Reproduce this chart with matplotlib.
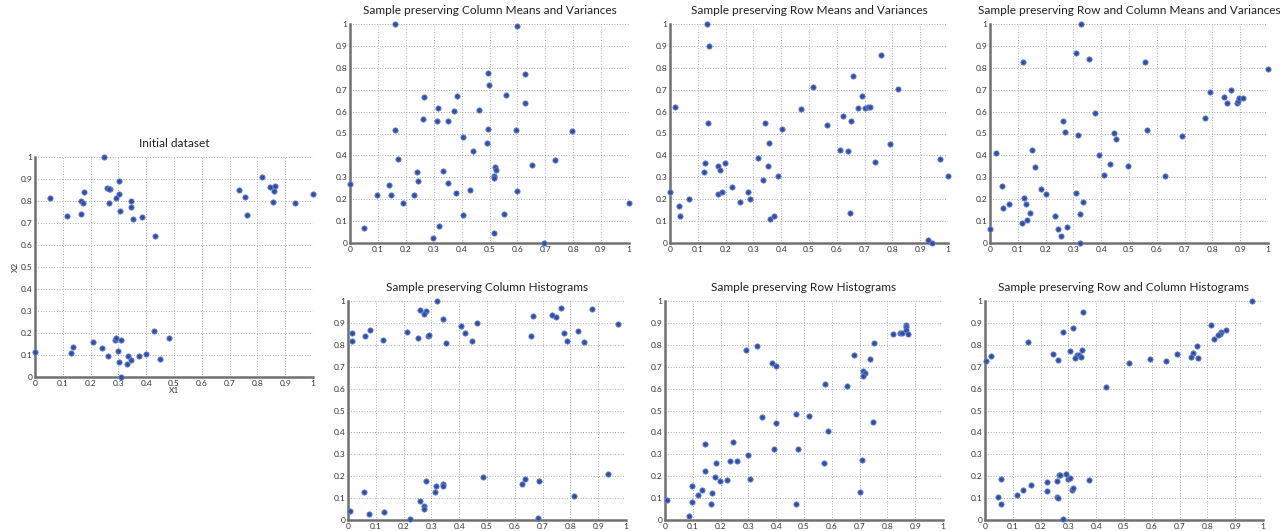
import matplotlib

matplotlib.use("Agg")
import matplotlib.pyplot as plt
import numpy as np

# Исходные данные (чтение с картинки)
init_x1 = [0.249, 0.055, 0.115, 0.165, 0.173, 0.177, 0.167, 0.259, 0.271, 0.265,
           0.267, 0.290, 0.302, 0.302, 0.305, 0.347, 0.345, 0.353, 0.384, 0.432,
           0.735, 0.755, 0.763, 0.817, 0.847, 0.865, 0.859, 0.855, 0.937, 1.0,
           0.0, 0.129, 0.138, 0.207, 0.240, 0.261, 0.287, 0.293, 0.309, 0.300,
           0.303, 0.309, 0.331, 0.333, 0.344, 0.374, 0.400, 0.429, 0.450, 0.482]
init_x2 = [1.0, 0.813, 0.733, 0.802, 0.793, 0.839, 0.739, 0.859, 0.854, 0.855,
           0.793, 0.812, 0.889, 0.834, 0.755, 0.801, 0.771, 0.717, 0.728, 0.641,
           0.851, 0.819, 0.736, 0.910, 0.863, 0.869, 0.847, 0.796, 0.792, 0.831,
           0.112, 0.109, 0.138, 0.157, 0.134, 0.094, 0.170, 0.179, 0.166, 0.119,
           0.067, 0.0, 0.059, 0.096, 0.078, 0.094, 0.103, 0.211, 0.084, 0.179]

# Column Means and Variances
colmv_x = [0.161, 0.598, 0.496, 0.626, 0.498, 0.559, 0.265, 0.382, 0.626, 0.315,
           0.373, 0.462, 0.260, 0.311, 0.353, 0.162, 0.496, 0.595, 0.795, 0.404,
           0.492, 0.440, 0.171, 0.652, 0.733, 0.520, 0.525, 0.239, 0.332, 0.516,
           0.515, 0.0, 0.139, 0.243, 0.353, 0.098, 0.146, 0.230, 0.380, 0.430,
           0.597, 0.191, 1.0, 0.406, 0.551, 0.049, 0.318, 0.297, 0.517, 0.694]
colmv_y = [1.0, 0.989, 0.776, 0.773, 0.720, 0.676, 0.665, 0.673, 0.638, 0.618,
           0.601, 0.606, 0.565, 0.556, 0.557, 0.516, 0.522, 0.517, 0.511, 0.486,
           0.458, 0.419, 0.385, 0.357, 0.377, 0.345, 0.333, 0.326, 0.329, 0.307,
           0.299, 0.268, 0.265, 0.283, 0.272, 0.219, 0.221, 0.221, 0.228, 0.244,
           0.236, 0.184, 0.182, 0.128, 0.134, 0.067, 0.076, 0.023, 0.044, 0.0]

# Row Means and Variances
rowmv_x = [0.133, 0.142, 0.019, 0.137, 0.0, 0.032, 0.037, 0.068, 0.126, 0.122,
           0.172, 0.181, 0.198, 0.173, 0.186, 0.223, 0.251, 0.281, 0.287, 0.316,
           0.336, 0.343, 0.353, 0.357, 0.388, 0.361, 0.373, 0.402, 0.473, 0.513,
           0.565, 0.611, 0.623, 0.641, 0.651, 0.648, 0.657, 0.676, 0.691, 0.702,
           0.713, 0.718, 0.738, 0.759, 0.791, 0.819, 0.928, 0.942, 0.970, 1.0]
rowmv_y = [1.0, 0.898, 0.619, 0.548, 0.231, 0.170, 0.122, 0.201, 0.365, 0.326,
           0.350, 0.332, 0.364, 0.225, 0.231, 0.257, 0.189, 0.231, 0.199, 0.387,
           0.288, 0.546, 0.352, 0.457, 0.304, 0.110, 0.122, 0.519, 0.613, 0.711,
           0.537, 0.426, 0.580, 0.419, 0.556, 0.139, 0.763, 0.615, 0.671, 0.615,
           0.619, 0.623, 0.370, 0.860, 0.451, 0.703, 0.014, 0.0, 0.384, 0.307]

# Row and Column Means and Variances
rcmv_x = [0.328, 0.311, 0.355, 0.118, 0.556, 1.0, 0.866, 0.790, 0.842, 0.851,
          0.887, 0.891, 0.896, 0.909, 0.773, 0.378, 0.262, 0.271, 0.318, 0.445,
          0.455, 0.564, 0.689, 0.022, 0.152, 0.161, 0.393, 0.431, 0.495, 0.409,
          0.630, 0.042, 0.046, 0.070, 0.185, 0.202, 0.124, 0.131, 0.143, 0.132,
          0.114, 0.0, 0.233, 0.244, 0.254, 0.277, 0.310, 0.333, 0.325, 0.322]
rcmv_y = [1.0, 0.869, 0.841, 0.826, 0.825, 0.793, 0.700, 0.689, 0.667, 0.641,
          0.641, 0.650, 0.661, 0.661, 0.571, 0.595, 0.556, 0.505, 0.493, 0.504,
          0.475, 0.514, 0.489, 0.411, 0.425, 0.346, 0.403, 0.359, 0.350, 0.311,
          0.306, 0.260, 0.158, 0.178, 0.248, 0.222, 0.206, 0.180, 0.139, 0.104,
          0.091, 0.062, 0.123, 0.065, 0.032, 0.072, 0.230, 0.189, 0.134, 0.0]

# Column Histograms
colh_x = [0.321, 0.258, 0.281, 0.275, 0.343, 0.463, 0.406, 0.421, 0.287, 0.293,
          0.251, 0.212, 0.351, 0.445, 0.014, 0.016, 0.061, 0.078, 0.125, 0.664,
          0.659, 0.733, 0.767, 0.749, 0.777, 0.786, 0.827, 0.849, 0.876, 0.972,
          0.007, 0.059, 0.076, 0.130, 0.224, 0.258, 0.274, 0.273, 0.279, 0.316,
          0.313, 0.341, 0.341, 0.486, 0.625, 0.637, 0.688, 0.683, 0.812, 0.934]
colh_y = [1.0, 0.959, 0.954, 0.939, 0.916, 0.901, 0.887, 0.855, 0.838, 0.846,
          0.832, 0.860, 0.808, 0.817, 0.852, 0.817, 0.838, 0.866, 0.823, 0.930,
          0.840, 0.934, 0.966, 0.925, 0.852, 0.817, 0.864, 0.814, 0.962, 0.896,
          0.040, 0.127, 0.027, 0.037, 0.003, 0.087, 0.062, 0.052, 0.178, 0.154,
          0.130, 0.166, 0.157, 0.198, 0.163, 0.189, 0.178, 0.011, 0.111, 0.210]

# Row Histograms
rowh_x = [0.820, 0.844, 0.851, 0.866, 0.867, 0.868, 0.873, 0.753, 0.681, 0.739,
          0.714, 0.718, 0.712, 0.574, 0.654, 0.293, 0.330, 0.385, 0.401, 0.349,
          0.471, 0.517, 0.401, 0.749, 0.588, 0.393, 0.480, 0.246, 0.145, 0.298,
          0.234, 0.260, 0.185, 0.571, 0.707, 0.145, 0.181, 0.198, 0.223, 0.306,
          0.097, 0.134, 0.119, 0.168, 0.008, 0.098, 0.166, 0.703, 0.473, 0.086]
rowh_y = [0.851, 0.855, 0.855, 0.892, 0.879, 0.867, 0.851, 0.809, 0.754, 0.735,
          0.680, 0.671, 0.659, 0.622, 0.610, 0.774, 0.793, 0.715, 0.701, 0.471,
          0.482, 0.477, 0.444, 0.447, 0.405, 0.325, 0.322, 0.355, 0.345, 0.297,
          0.271, 0.268, 0.261, 0.258, 0.276, 0.224, 0.195, 0.180, 0.183, 0.186,
          0.154, 0.136, 0.116, 0.123, 0.091, 0.082, 0.072, 0.130, 0.072, 0.017]

# Row and Column Histograms
rch_x = [0.960, 0.814, 0.868, 0.849, 0.844, 0.839, 0.825, 0.761, 0.690, 0.747,
         0.742, 0.767, 0.592, 0.651, 0.519, 0.436, 0.352, 0.317, 0.279, 0.155,
         0.245, 0.263, 0.306, 0.350, 0.332, 0.339, 0.325, 0.346, 0.020, 0.004,
         0.056, 0.048, 0.058, 0.114, 0.137, 0.164, 0.223, 0.224, 0.258, 0.259,
         0.267, 0.270, 0.291, 0.297, 0.304, 0.313, 0.318, 0.373, 0.280, 0.262]
rch_y = [1.0, 0.890, 0.867, 0.857, 0.851, 0.845, 0.825, 0.793, 0.759, 0.761,
         0.745, 0.742, 0.733, 0.724, 0.718, 0.608, 0.948, 0.878, 0.857, 0.811,
         0.758, 0.732, 0.771, 0.776, 0.755, 0.752, 0.741, 0.745, 0.748, 0.724,
         0.189, 0.105, 0.073, 0.114, 0.136, 0.162, 0.174, 0.134, 0.178, 0.105,
         0.207, 0.206, 0.212, 0.188, 0.192, 0.139, 0.148, 0.184, 0.005, 0.100]

W, H = 1285, 531
fig = plt.figure(figsize=(W / 100, H / 100), dpi=100)
plt.rcParams["font.family"] = ["Lato", "DejaVu Sans"]

ticks = np.round(np.arange(0, 1.01, 0.1), 1)
tick_labels = ["0"] + [f"{t:.1f}" for t in ticks[1:-1]] + ["1"]


def make_ax(left, top, right, bottom, x, y, title):
    # координаты в пикселях -> доли фигуры
    ax = fig.add_axes([left / W, 1 - bottom / H, (right - left) / W, (bottom - top) / H])
    ax.plot(x, y, "o", color="#2f4fa6", markersize=3.8, markeredgecolor="#6a84c8",
            markeredgewidth=0.6, clip_on=False, zorder=3)
    ax.set_xlim(0, 1)
    ax.set_ylim(0, 1)
    ax.set_xticks(ticks)
    ax.set_yticks(ticks)
    ax.set_xticklabels(tick_labels)
    ax.set_yticklabels(tick_labels)
    ax.tick_params(labelsize=6, colors="#333333", length=0, pad=2)
    ax.grid(True, linestyle=(0, (1, 2.2)), color="#909090", linewidth=0.6)
    for side in ["top", "right"]:
        ax.spines[side].set_visible(False)
    for side in ["left", "bottom"]:
        ax.spines[side].set_color("#707070")
        ax.spines[side].set_linewidth(1.8)
    ax.set_title(title, fontsize=8.6, color="#222222", pad=7)
    return ax


ax0 = make_ax(35, 157, 313, 377, init_x1, init_x2, "Initial dataset")
ax0.set_xlabel("X1", fontsize=6, color="#333333", labelpad=0)
ax0.set_ylabel("X2", fontsize=6, color="#333333", labelpad=1)

make_ax(350, 24, 629, 243, colmv_x, colmv_y, "Sample preserving Column Means and Variances")
make_ax(670, 24, 948, 243, rowmv_x, rowmv_y, "Sample preserving Row Means and Variances")
make_ax(990, 24, 1268, 243, rcmv_x, rcmv_y, "Sample preserving Row and Column Means and Variances")
make_ax(348, 301, 626, 520, colh_x, colh_y, "Sample preserving Column Histograms")
make_ax(665, 301, 943, 520, rowh_x, rowh_y, "Sample preserving Row Histograms")
make_ax(985, 301, 1263, 520, rch_x, rch_y, "Sample preserving Row and Column Histograms")

fig.savefig("out.png", dpi=100)
